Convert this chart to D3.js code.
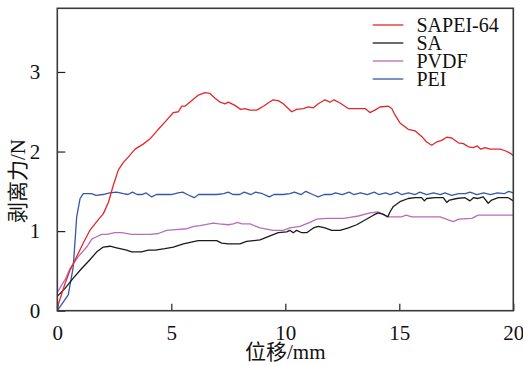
<!DOCTYPE html>
<html>
<head>
<meta charset="utf-8">
<script src="https://cdn.jsdelivr.net/npm/d3@7"></script>
<style>
  html, body { margin: 0; padding: 0; background: #fff; }
  svg { display: block; }
</style>
</head>
<body>
<svg id="chart" width="523" height="365"></svg>
<script>
// Peel force (N) versus displacement (mm) for four binders
const seriesNames = ["SAPEI-64", "SA", "PVDF", "PEI"];
const seriesColors = ["#e3262c", "#1a1a1a", "#b86cbc", "#3457a8"];

const sapei64 = [[0,0.04],[0.34,0.34],[0.56,0.51],[0.85,0.68],[1.14,0.85],[1.43,1.01],[1.73,1.12],[2.02,1.22],[2.24,1.36],[2.46,1.58],[2.68,1.77],[2.89,1.86],[3.11,1.93],[3.41,2.03],[3.75,2.09],[4.07,2.16],[4.4,2.27],[4.72,2.37],[5.09,2.49],[5.31,2.50],[5.46,2.57],[5.6,2.57],[5.9,2.64],[6.19,2.71],[6.48,2.74],[6.70,2.73],[6.92,2.67],[7.14,2.62],[7.36,2.60],[7.5,2.62],[7.79,2.58],[8.04,2.53],[8.23,2.54],[8.45,2.52],[8.75,2.52],[9.04,2.57],[9.25,2.61],[9.47,2.65],[9.69,2.64],[9.91,2.60],[10.28,2.50],[10.50,2.53],[10.79,2.54],[11.01,2.56],[11.23,2.55],[11.45,2.60],[11.74,2.65],[11.96,2.62],[12.13,2.65],[12.4,2.61],[12.76,2.54],[13.13,2.54],[13.5,2.54],[13.71,2.49],[13.93,2.52],[14.15,2.56],[14.52,2.57],[14.67,2.54],[14.81,2.46],[15.03,2.36],[15.39,2.28],[15.69,2.26],[15.98,2.19],[16.2,2.12],[16.42,2.08],[16.64,2.12],[16.86,2.14],[17.08,2.18],[17.3,2.17],[17.59,2.11],[17.81,2.10],[18.03,2.06],[18.25,2.05],[18.42,2.07],[18.57,2.03],[18.76,2.05],[18.98,2.03],[19.42,2.03],[19.64,2.01],[19.86,1.98],[20,1.95]];

const sa = [[0,0.18],[0.34,0.28],[0.7,0.41],[1.07,0.53],[1.43,0.64],[1.73,0.74],[2.02,0.80],[2.31,0.81],[2.6,0.79],[2.75,0.78],[3.04,0.76],[3.26,0.74],[3.7,0.74],[3.99,0.76],[4.29,0.76],[4.72,0.78],[5.09,0.80],[5.53,0.84],[6.18,0.88],[6.99,0.88],[7.21,0.85],[7.5,0.84],[8.01,0.84],[8.3,0.87],[8.89,0.89],[9.25,0.93],[9.69,0.98],[10.06,0.99],[10.2,1.01],[10.35,0.98],[10.5,1.01],[10.72,0.98],[10.94,0.98],[11.23,1.04],[11.45,1.06],[11.74,1.04],[12.04,1.01],[12.4,1.01],[12.77,1.04],[13.13,1.08],[13.5,1.14],[13.86,1.20],[14.08,1.23],[14.3,1.21],[14.5,1.18],[14.59,1.24],[14.74,1.31],[15.03,1.37],[15.39,1.41],[15.69,1.42],[15.98,1.42],[16.1,1.38],[16.2,1.41],[16.57,1.42],[16.93,1.42],[17.08,1.36],[17.2,1.39],[17.52,1.41],[17.88,1.42],[18.1,1.38],[18.25,1.42],[18.45,1.41],[18.68,1.43],[18.9,1.35],[19.05,1.39],[19.34,1.42],[19.78,1.42],[20,1.38]];

const pvdf = [[0,0.23],[0.34,0.39],[0.56,0.53],[0.92,0.68],[1.29,0.80],[1.51,0.90],[1.65,0.92],[1.95,0.96],[2.17,0.96],[2.53,0.98],[2.82,0.98],[3.26,0.96],[3.7,0.96],[4.07,0.96],[4.43,0.97],[4.8,1.01],[5.2,1.02],[5.68,1.03],[6.0,1.06],[6.26,1.07],[6.84,1.10],[7.1,1.09],[7.5,1.08],[7.72,1.09],[7.9,1.11],[8.1,1.09],[8.45,1.09],[8.89,1.04],[9.47,1.01],[9.91,1.01],[10.2,1.04],[10.64,1.06],[11.08,1.11],[11.37,1.15],[11.82,1.16],[12.54,1.16],[12.77,1.17],[13.2,1.19],[13.71,1.23],[14.08,1.24],[14.3,1.21],[14.45,1.18],[15.1,1.18],[15.3,1.20],[15.54,1.18],[16.79,1.18],[17.15,1.14],[17.37,1.12],[17.6,1.15],[18.18,1.16],[18.46,1.20],[20,1.20]];

const pei = [[0,0],[0.48,0.2],[0.70,0.55],[0.85,1.18],[1.0,1.41],[1.14,1.47],[1.5,1.47],[1.7,1.45],[2.0,1.46],[2.3,1.48],[2.6,1.49],[2.9,1.47],[3.1,1.46],[3.3,1.49],[3.5,1.46],[3.7,1.46],[3.9,1.48],[4.14,1.43],[4.35,1.46],[4.7,1.46],[5.0,1.46],[5.3,1.48],[5.5,1.49],[5.7,1.46],[6.0,1.42],[6.2,1.46],[6.6,1.46],[7.0,1.46],[7.3,1.47],[7.5,1.49],[7.7,1.46],[8.0,1.46],[8.2,1.49],[8.5,1.46],[8.7,1.49],[9.0,1.47],[9.3,1.43],[9.5,1.46],[9.9,1.46],[10.2,1.47],[10.4,1.49],[10.7,1.46],[10.9,1.50],[11.2,1.46],[11.45,1.43],[11.7,1.46],[12.0,1.46],[12.2,1.48],[12.5,1.46],[12.8,1.49],[13.0,1.46],[13.3,1.48],[13.6,1.46],[13.9,1.49],[14.1,1.46],[14.4,1.48],[14.6,1.46],[14.9,1.49],[15.1,1.46],[15.4,1.48],[15.7,1.46],[15.9,1.49],[16.2,1.46],[16.5,1.48],[16.8,1.46],[17.0,1.48],[17.3,1.45],[17.6,1.47],[17.9,1.47],[18.1,1.49],[18.4,1.46],[18.7,1.48],[19.0,1.46],[19.3,1.48],[19.6,1.47],[19.8,1.50],[20,1.48]];

const seriesData = [sapei64, sa, pvdf, pei];
// drawing order: keep the red curve on top
const drawOrder = [3, 2, 1, 0];

const xTicks = [0, 5, 10, 15, 20];
const yTicks = [0, 1, 2, 3];
const xTitleCJK = "位移", xTitleUnit = "/mm";
const yTitleCJK = "剥离力", yTitleUnit = "/N";

const SERIF = "Liberation Serif";
const CJK = "Noto Sans CJK SC";

const W = 523, H = 365;
const margin = { left: 57.3, right: W - 513.3, top: 8.3, bottom: H - 310.7 };
const svg = d3.select("#chart");

const x = d3.scaleLinear().domain([0, 20]).range([margin.left, W - margin.right]);
const y = d3.scaleLinear().domain([0, 3.8]).range([H - margin.bottom, margin.top]);

// x axis with inward ticks
const xAxis = svg.append("g")
  .attr("transform", `translate(0,${y(0)})`)
  .call(d3.axisBottom(x).tickValues(xTicks).tickFormat(d3.format("d")).tickSize(-7).tickPadding(14));
xAxis.attr("font-family", SERIF).attr("font-size", 21);
xAxis.select(".domain").remove();
xAxis.selectAll(".tick line").attr("stroke", "#222").attr("stroke-width", 1.2);
xAxis.selectAll(".tick text").attr("fill", "#111");

// y axis with inward ticks
const yAxis = svg.append("g")
  .attr("transform", `translate(${x(0)},0)`)
  .call(d3.axisLeft(y).tickValues(yTicks).tickFormat(d3.format("d")).tickSize(-8).tickPadding(17));
yAxis.attr("font-family", SERIF).attr("font-size", 21);
yAxis.select(".domain").remove();
yAxis.selectAll(".tick line").attr("stroke", "#222").attr("stroke-width", 1.2);
yAxis.selectAll(".tick text").attr("fill", "#111");

// curves
const line = d3.line().x(d => x(d[0])).y(d => y(d[1]));
const plot = svg.append("g");
drawOrder.forEach(i => {
  plot.append("path")
    .datum(seriesData[i])
    .attr("fill", "none")
    .attr("stroke", seriesColors[i])
    .attr("stroke-width", 1.3)
    .attr("stroke-linejoin", "round")
    .attr("d", line);
});

// frame
svg.append("rect")
  .attr("x", x(0)).attr("y", y(3.8))
  .attr("width", x(20) - x(0)).attr("height", y(0) - y(3.8))
  .attr("fill", "none").attr("stroke", "#3a3a3a").attr("stroke-width", 1.6);

// legend
const legend = svg.append("g").attr("font-family", SERIF).attr("font-size", 20);
seriesNames.forEach((name, i) => {
  const ly = 25 + i * 18;
  legend.append("line")
    .attr("x1", 372.7).attr("x2", 403.3).attr("y1", ly).attr("y2", ly)
    .attr("stroke", seriesColors[i]).attr("stroke-width", 1.3);
  legend.append("text")
    .attr("x", 416.5).attr("y", ly + 6.5)
    .attr("fill", "#111")
    .text(name);
});

// axis titles: CJK part in a sans face, unit part in serif
const xt = svg.append("text")
  .attr("x", (x(0) + x(20)) / 2).attr("y", 359)
  .attr("text-anchor", "middle").attr("font-size", 21).attr("fill", "#111");
xt.append("tspan").attr("font-family", CJK).text(xTitleCJK);
xt.append("tspan").attr("font-family", SERIF).text(xTitleUnit);

const yt = svg.append("text")
  .attr("transform", `translate(25,181) rotate(-90)`)
  .attr("text-anchor", "middle").attr("font-size", 21).attr("fill", "#111");
yt.append("tspan").attr("font-family", CJK).text(yTitleCJK);
yt.append("tspan").attr("font-family", SERIF).text(yTitleUnit);
</script>
</body>
</html>
